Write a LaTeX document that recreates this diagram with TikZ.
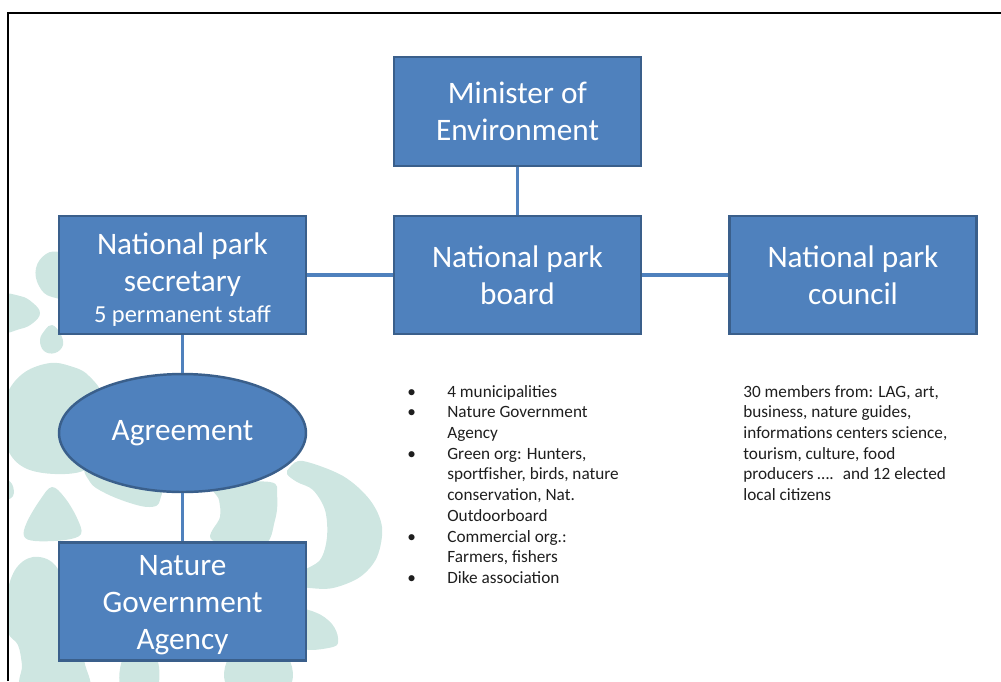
\documentclass[tikz,border=0pt]{standalone}
\usepackage{fontspec}
\setmainfont{Carlito}
\usepackage{xcolor}
\usepackage{tikz}
\usetikzlibrary{shapes.geometric}

\definecolor{unitblue}{HTML}{4F81BD}
\definecolor{unitedge}{HTML}{3A5F8B}
\definecolor{leaf}{HTML}{CEE6E1}
\definecolor{listtext}{HTML}{1E1E1E}

% pushes a three-line box text a little down
\newcommand{\toproom}[1]{\rule{0pt}{#1}}

\begin{document}
\begin{tikzpicture}[
      x=0.02cm, y=-0.02cm,
      unit/.style={draw=unitedge, fill=unitblue, text=white, line width=1.4pt,
                   align=center, minimum width=4.94cm, minimum height=2.36cm,
                   inner sep=0pt, font=\fontsize{17.8}{21}\selectfont},
      pact/.style={unit, ellipse},
      link/.style={draw=unitblue, line width=1.8pt},
      notes/.style={text=listtext, inner sep=0pt, anchor=base west,
                    font=\fontsize{9.8}{11.8}\selectfont},
      leafy/.style={fill=leaf, draw=none}]

    \useasboundingbox (0,0) rectangle (1001,681);

    % pale leaves behind the left column
    \begin{scope}
      \clip (8,13) rectangle (1001,681);
      \fill[leafy] plot[smooth cycle, tension=0.7] coordinates
        {(60,252) (46,254) (36,268) (39,286) (52,297) (75,295) (75,258)};
      \fill[leafy] plot[smooth cycle, tension=0.7] coordinates
        {(2,297) (20,296) (33,303) (40,313) (33,323) (20,329) (2,330)};
      \fill[leafy] plot[smooth cycle, tension=0.7] coordinates
        {(52,325) (60,333) (63,345) (55,353) (44,351) (40,340) (45,330)};
      \fill[leafy] plot[smooth cycle, tension=0.6] coordinates
        {(50,363) (25,372) (8,392) (4,420) (8,450) (25,468) (55,474) (85,470)
         (102,450) (104,400) (88,375) (70,366)};
      \fill[leafy] plot[smooth cycle, tension=0.6] coordinates
        {(90,465) (90,482) (105,493) (130,503) (150,507) (160,500) (160,465)};
      \fill[leafy] plot[smooth cycle, tension=0.6] coordinates
        {(2,478) (12,484) (13,496) (2,500)};
      \fill[leafy] plot[smooth cycle, tension=0.6] coordinates
        {(52,487) (40,500) (27,522) (24,536) (35,541) (65,540) (81,534) (77,518) (65,498)};
      \fill[leafy] plot[smooth cycle, tension=0.6] coordinates
        {(33,557) (15,570) (6,600) (8,632) (18,645) (22,665) (24,690) (86,690)
         (84,660) (70,600) (55,565)};
      \fill[leafy] plot[smooth cycle, tension=0.6] coordinates
        {(122,690) (125,655) (155,655) (156,690)};
      \fill[leafy] plot[smooth cycle, tension=0.6] coordinates
        {(215,485) (219,500) (220,517) (212,540) (262,546) (275,520) (277,495) (270,482)};
      \fill[leafy] plot[smooth cycle, tension=0.55] coordinates
        {(290,467) (303,461) (343,476) (370,500) (382,527) (377,557) (360,577)
         (333,588) (310,588) (300,585) (300,573) (320,560) (327,537) (325,510)
         (313,490) (297,482) (287,474)};
      \fill[leafy] plot[smooth cycle, tension=0.6] coordinates
        {(300,612) (317,613) (332,624) (338,638) (333,647) (300,647)};
      \fill[leafy] plot[smooth cycle, tension=0.6] coordinates
        {(232,655) (230,690) (287,690) (285,655)};
    \end{scope}

    \draw[line width=0.9pt] (8,681) -- (8,13) -- (1001,13);

    \node[unit, minimum height=2.18cm] (minister) at (517.5,111.5) {Minister of\\Environment};
    \node[unit] (board) at (517.5,275) {National park\\board};
    \node[unit] (council) at (853,275) {National park\\council};
    \node[unit] (secr) at (182.5,275)
      {\toproom{17.2pt}National park\\secretary\\[-3.4pt]{\fontsize{13.9}{16}\selectfont 5 permanent staff}};
    \node[pact] (agree) at (182.5,433) {Agreement};
    \node[unit] (nga) at (182.5,601.5) {\toproom{15.8pt}Nature\\Government\\Agency};

    \path[link] (minister) -- (board);
    \path[link] (secr) -- (board);
    \path[link] (board) -- (council);
    \path[link] (secr) -- (agree);
    \path[link] (agree) -- (nga);

    \node[notes] (boardlist) at (407,397)
      {\begin{tabular}[t]{@{}p{0.8cm}@{}l@{}}
        \textbullet & 4 municipalities\\
        \textbullet & Nature Government\\
                    & Agency\\
        \textbullet & Green org: Hunters,\\
                    & sportfisher, birds, nature\\
                    & conservation, Nat.\\
                    & Outdoorboard\\
        \textbullet & Commercial org.:\\
                    & Farmers, fishers\\
        \textbullet & Dike association
       \end{tabular}};
    \node[notes] (councilnote) at (743,397)
      {\begin{tabular}[t]{@{}l@{}}
        30 members from: LAG, art,\\
        business, nature guides,\\
        informations centers science,\\
        tourism, culture, food\\
        producers ….~ and 12 elected\\
        local citizens
       \end{tabular}};
  \end{tikzpicture}
\end{document}
